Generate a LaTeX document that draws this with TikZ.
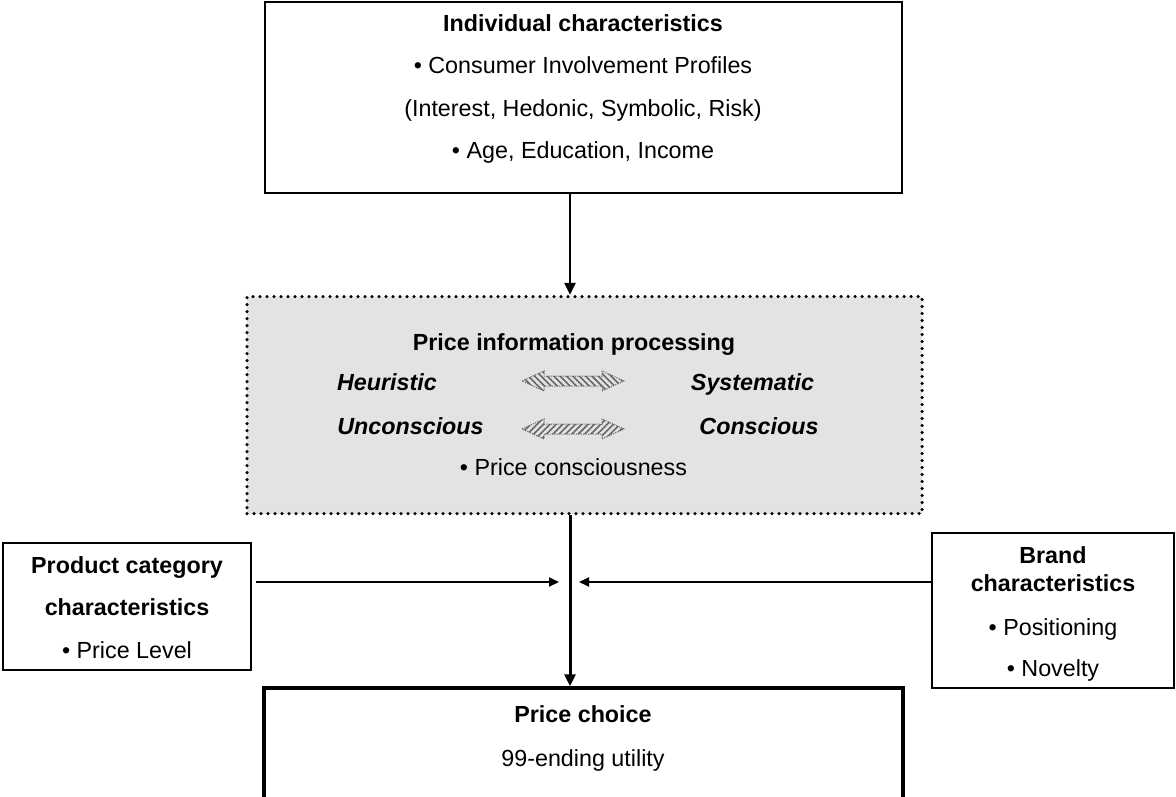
\documentclass[tikz,border=0pt]{standalone}
\usepackage{fontspec}
\setmainfont{Liberation Sans}
\usetikzlibrary{arrows.meta,patterns.meta}
\begin{document}
\begin{tikzpicture}[x=1pt,y=-1pt,
  txt/.style={font=\fontsize{23.3}{28}\selectfont, text height=0.75em, text depth=0.2em, inner sep=0pt, yshift=-6pt},
  btxt/.style={txt, font=\fontsize{23.3}{28}\selectfont\bfseries},
  itxt/.style={txt, font=\fontsize{23.3}{28}\selectfont\bfseries\itshape},
  plainbox/.style={draw=black, line width=2pt, inner sep=0pt},
  dotbox/.style={draw=black, line width=3.5pt, dash pattern=on 0pt off 7pt, line cap=round, fill=black!11, inner sep=0pt},
  mainarrow/.style={line width=3pt, -{Triangle[length=12pt,width=11pt]}},
  sidearrow/.style={line width=1.8pt, -{Triangle[length=10pt,width=9pt]}},
  hatchbg/.style={fill=black!4},
  hatchline/.style={draw=black!60, line width=1pt, dash pattern=on 1.2pt off 1.2pt}
]
\clip (0,0) rectangle (1176,796);
\fill[white] (0,0) rectangle (1176,796);

% boxes
\node[plainbox, minimum width=637pt, minimum height=191pt] (top) at (583.5,97.5) {};
\node[dotbox, minimum width=675pt, minimum height=217pt] (pip) at (584.5,405) {};
\node[plainbox, minimum width=248pt, minimum height=127pt] (prod) at (127,606.5) {};
\node[plainbox, minimum width=242pt, minimum height=155pt] (brand) at (1053,610.5) {};
\node[plainbox, line width=3.5pt, minimum width=639pt, minimum height=117pt] (choice) at (583.5,746.5) {};

% top box text
\node[btxt] (t1) at (583,23) {Individual characteristics};
\node[txt] (t2) at (583,65) {• Consumer Involvement Profiles};
\node[txt] (t3) at (583,108) {(Interest, Hedonic, Symbolic, Risk)};
\node[txt] (t4) at (583,150) {• Age, Education, Income};

% processing box text
\node[btxt] (p1) at (574,342) {Price information processing};
\node[itxt] (p2) at (387,382) {Heuristic};
\node[itxt] (p3) at (752.5,382) {Systematic};
\node[itxt] (p4) at (410.5,426) {Unconscious};
\node[itxt] (p5) at (759,426) {Conscious};
\node[txt] (p6) at (573.5,467) {• Price consciousness};

% hatched double arrows
\path[hatchbg, pattern={Lines[angle=-45,distance=4.5pt,line width=1.6pt]}, pattern color=black!60]
  (522,381) -- (544,371) -- (544,376) -- (602,376) -- (602,371) -- (624,381)
  -- (602,391) -- (602,386) -- (544,386) -- (544,391) -- cycle;
\draw[hatchline]
  (522,381) -- (544,371) -- (544,376) -- (602,376) -- (602,371) -- (624,381)
  -- (602,391) -- (602,386) -- (544,386) -- (544,391) -- cycle;
\path[hatchbg, pattern={Lines[angle=45,distance=4.5pt,line width=1.6pt]}, pattern color=black!60]
  (522,429) -- (544,419) -- (544,424) -- (602,424) -- (602,419) -- (624,429)
  -- (602,439) -- (602,434) -- (544,434) -- (544,439) -- cycle;
\draw[hatchline]
  (522,429) -- (544,419) -- (544,424) -- (602,424) -- (602,419) -- (624,429)
  -- (602,439) -- (602,434) -- (544,434) -- (544,439) -- cycle;

% side box texts
\node[btxt] (c1) at (127,565) {Product category};
\node[btxt] (c2) at (127,607) {characteristics};
\node[txt] (c3) at (127,650) {• Price Level};

\node[btxt] (b1) at (1053,555) {Brand};
\node[btxt] (b2) at (1053,583) {characteristics};
\node[txt] (b3) at (1053,627) {• Positioning};
\node[txt] (b4) at (1053,668) {• Novelty};

\node[btxt] (ch1) at (583,714) {Price choice};
\node[txt] (ch2) at (583,758) {99-ending utility};

% connectors
\coordinate (axis) at (570,0);
\coordinate (lend) at (559,582);
\coordinate (rend) at (579,582);
\draw[mainarrow, line width=2.5pt] (top.south -| axis) -- (pip.north -| axis);
\draw[mainarrow] (pip.south -| axis) -- (choice.north -| axis);
\draw[sidearrow, shorten <=4pt] (prod.east |- lend) -- (lend);
\draw[sidearrow] (brand.west |- rend) -- (rend);
\end{tikzpicture}
\end{document}
